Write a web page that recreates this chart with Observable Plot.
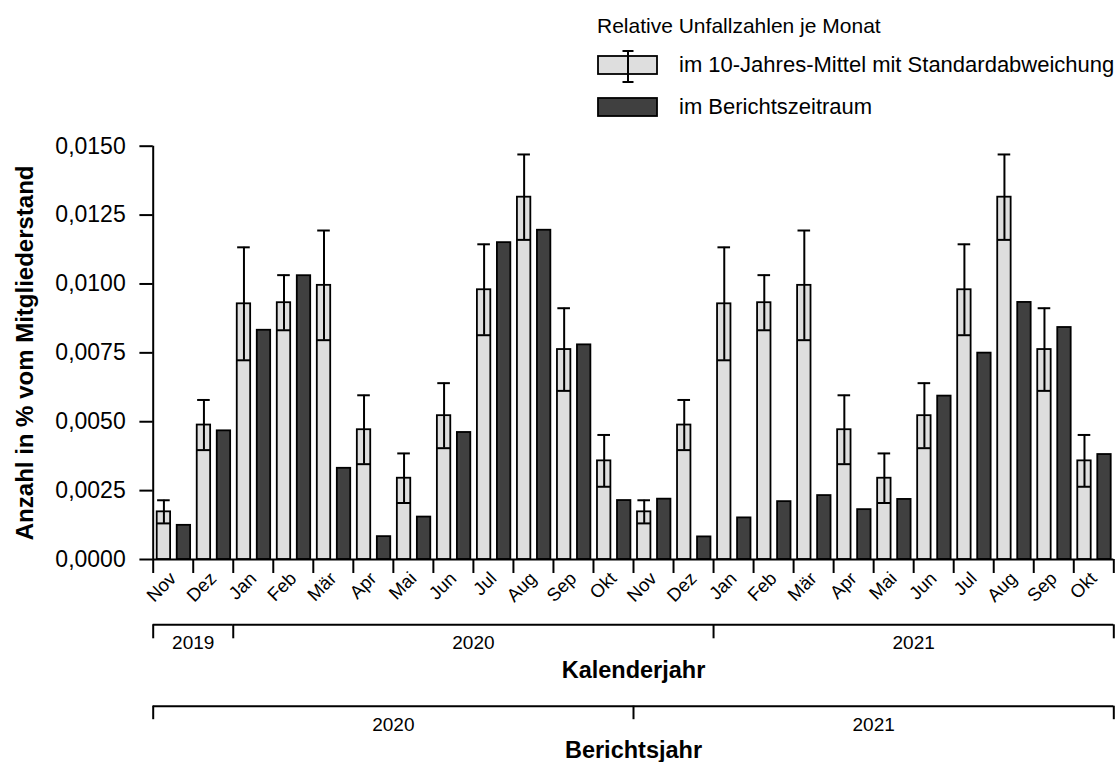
<!DOCTYPE html>
<html>
<head>
<meta charset="utf-8">
<script src="https://cdn.jsdelivr.net/npm/d3@7"></script>
<script src="https://cdn.jsdelivr.net/npm/@observablehq/plot@0.6"></script>
<style>
  html, body { margin: 0; padding: 0; background: #fff; }
  #wrap { position: relative; width: 1115px; height: 762px; font-family: "Liberation Sans", Arial, sans-serif; }
  #legend { position: absolute; left: 0; top: 0; }
  #chart { position: absolute; left: 0; top: 0; }
</style>
</head>
<body>
<div id="wrap"><div id="chart"></div><svg id="legend" width="1115" height="130"></svg></div>
<script>
// ---- data ----
const monthNames = ["Nov","Dez","Jan","Feb","Mär","Apr","Mai","Jun","Jul","Aug","Sep","Okt"];
// 10-year mean and standard deviation per calendar month (Nov .. Okt)
const meanByMonth = [0.00173, 0.00488, 0.00928, 0.00932, 0.00995, 0.00471, 0.00295, 0.00522, 0.00979, 0.01315, 0.00762, 0.00358];
const sdByMonth   = [0.00042, 0.00091, 0.00205, 0.00100, 0.00199, 0.00125, 0.00090, 0.00118, 0.00165, 0.00155, 0.00150, 0.00094];
// reporting period values Nov 2019 .. Okt 2021
const reported = [0.00124, 0.00467, 0.00832, 0.01030, 0.00331, 0.00083, 0.00154, 0.00461, 0.01150, 0.01195, 0.00779, 0.00214,
                  0.00219, 0.00082, 0.00151, 0.00210, 0.00232, 0.00181, 0.00218, 0.00593, 0.00749, 0.00933, 0.00842, 0.00381];
const yTicks = [0, 0.0025, 0.005, 0.0075, 0.01, 0.0125, 0.015];
const calYears = [{label: "2019", start: 0, end: 2}, {label: "2020", start: 2, end: 14}, {label: "2021", start: 14, end: 24}];
const repYears = [{label: "2020", start: 0, end: 12}, {label: "2021", start: 12, end: 24}];
const legendTitle = "Relative Unfallzahlen je Monat";
const legendLabels = ["im 10-Jahres-Mittel mit Standardabweichung", "im Berichtszeitraum"];
const yTitle = "Anzahl in % vom Mitgliederstand";
const calTitle = "Kalenderjahr";
const repTitle = "Berichtsjahr";

const rows = reported.map((v, i) => ({i, label: monthNames[i % 12], mean: meanByMonth[i % 12], sd: sdByMonth[i % 12], value: v}));
const calBounds = [0, ...calYears.map(d => d.end)];
const repBounds = [0, ...repYears.map(d => d.end)];

// ---- style ----
const LIGHT = "#dedede", DARK = "#404040";
const FONT = "Liberation Sans, Arial, sans-serif";
const G1 = 0.10, G2 = 0.435, D1 = 0.60, D2 = 0.935;
const fmt = d => d.toFixed(4).replace(".", ",");

const chart = Plot.plot({
  width: 1115, height: 762,
  marginTop: 145.7, marginBottom: 203, marginLeft: 152.7, marginRight: 1.7,
  x: {domain: [0, 24], axis: null},
  y: {domain: [0, 0.015], axis: null},
  style: {fontFamily: FONT, background: "white", overflow: "visible", color: "black"},
  marks: [
    Plot.rect(rows, {x1: d => d.i + G1, x2: d => d.i + G2, y1: 0, y2: "mean", fill: LIGHT, stroke: "black", strokeWidth: 1.8}),
    Plot.ruleX(rows, {x: d => d.i + (G1 + G2) / 2, y1: d => d.mean - d.sd, y2: d => d.mean + d.sd, stroke: "black", strokeWidth: 2}),
    Plot.ruleY(rows, {y: d => d.mean + d.sd, x1: d => d.i + G1 + 0.01, x2: d => d.i + G2 - 0.01, stroke: "black", strokeWidth: 2}),
    Plot.ruleY(rows, {y: d => d.mean - d.sd, x1: d => d.i + G1, x2: d => d.i + G2, stroke: "black", strokeWidth: 2}),
    Plot.rect(rows, {x1: d => d.i + D1, x2: d => d.i + D2, y1: 0, y2: "value", fill: DARK, stroke: "black", strokeWidth: 1.8}),
    // y axis
    Plot.ruleX([0], {y1: 0, y2: 0.015, stroke: "black", strokeWidth: 2}),
    Plot.ruleY(yTicks, {y: d => d, x1: 0, x2: 0, insetLeft: -13.3, stroke: "black", strokeWidth: 2}),
    Plot.text(yTicks, {x: 0, y: d => d, text: fmt, textAnchor: "end", dx: -27.5, fontSize: 23, fill: "black"}),
    Plot.text([yTitle], {frameAnchor: "left", textAnchor: "middle", lineAnchor: "middle", dx: -127.7, rotate: -90, fontWeight: "bold", fontSize: 24, fill: "black"}),
    // x axis
    Plot.ruleY([0], {x1: 0, x2: 24, stroke: "black", strokeWidth: 2}),
    Plot.ruleX(d3.range(25), {x: d => d, y1: 0, y2: 0, insetBottom: -14, stroke: "black", strokeWidth: 2}),
    Plot.text(rows, {x: d => d.i + 0.5, y: 0, text: "label", rotate: -45, textAnchor: "end", dy: 16, fontSize: 18.5, fill: "black"}),
    // Kalenderjahr bracket
    Plot.ruleY(calYears, {y: 0, x1: "start", x2: "end", dy: 65.3, stroke: "black", strokeWidth: 2}),
    Plot.ruleX(calBounds, {x: d => d, y1: 0, y2: 0, insetBottom: -14, dy: 65.3, stroke: "black", strokeWidth: 2}),
    Plot.text(calYears, {x: d => (d.start + d.end) / 2, y: 0, text: "label", dy: 83, fontSize: 19, fill: "black"}),
    Plot.text([calTitle], {frameAnchor: "bottom", lineAnchor: "middle", dy: 110.5, fontWeight: "bold", fontSize: 23.5, fill: "black"}),
    // Berichtsjahr bracket
    Plot.ruleY(repYears, {y: 0, x1: "start", x2: "end", dy: 146.7, stroke: "black", strokeWidth: 2}),
    Plot.ruleX(repBounds, {x: d => d, y1: 0, y2: 0, insetBottom: -13.5, dy: 146.7, stroke: "black", strokeWidth: 2}),
    Plot.text(repYears, {x: d => (d.start + d.end) / 2, y: 0, text: "label", dy: 165.5, fontSize: 19, fill: "black"}),
    Plot.text([repTitle], {frameAnchor: "bottom", lineAnchor: "middle", dy: 190.5, fontWeight: "bold", fontSize: 23.5, fill: "black"})
  ]
});
document.getElementById("chart").appendChild(chart);

// ---- legend ----
const lg = d3.select("#legend").style("font-family", FONT);
lg.append("text").attr("x", 597).attr("y", 33).attr("font-size", 21).text(legendTitle);
lg.append("rect").attr("x", 598).attr("y", 56).attr("width", 59).attr("height", 18).attr("fill", LIGHT).attr("stroke", "black").attr("stroke-width", 1.8);
lg.append("line").attr("x1", 628).attr("x2", 628).attr("y1", 51).attr("y2", 82).attr("stroke", "black").attr("stroke-width", 2);
lg.append("line").attr("x1", 622.5).attr("x2", 633.5).attr("y1", 51).attr("y2", 51).attr("stroke", "black").attr("stroke-width", 2);
lg.append("line").attr("x1", 622.5).attr("x2", 633.5).attr("y1", 82).attr("y2", 82).attr("stroke", "black").attr("stroke-width", 2);
lg.append("text").attr("x", 679).attr("y", 64.5).attr("dy", "0.35em").attr("font-size", 22).text(legendLabels[0]);
lg.append("rect").attr("x", 598).attr("y", 98).attr("width", 59).attr("height", 18).attr("fill", DARK).attr("stroke", "black").attr("stroke-width", 1.8);
lg.append("text").attr("x", 679).attr("y", 106.7).attr("dy", "0.35em").attr("font-size", 22).text(legendLabels[1]);
</script>
</body>
</html>
